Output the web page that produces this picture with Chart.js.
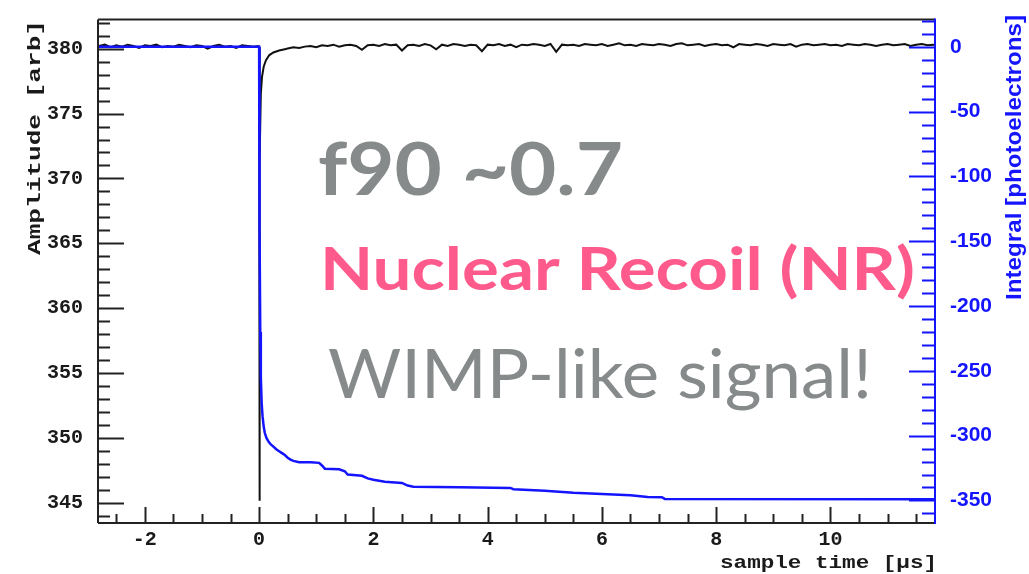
<!DOCTYPE html>
<html>
<head>
<meta charset="utf-8">
<script src="https://cdn.jsdelivr.net/npm/chart.js@4.4.0/dist/chart.umd.min.js"></script>
<style>
  html, body { margin: 0; padding: 0; background: #fff; }
  canvas { display: block; }
</style>
</head>
<body>
<canvas id="pulse" width="1029" height="574"></canvas>
<script>
// amplitude trace (black, left axis)
const ampTime = [
  -2.82, -2.8, -2.7, -2.6, -2.5, -2.4, -2.3, -2.2, -2.1, -2.0,
  -1.9, -1.8, -1.7, -1.6, -1.5, -1.4, -1.3, -1.2, -1.1, -1.0,
  -0.9, -0.8, -0.7, -0.6, -0.5, -0.4, -0.3, -0.2, -0.1,
  -0.01, 0, 0.003, 0.015, 0.03, 0.05, 0.08, 0.12, 0.18, 0.25, 0.35, 0.45,
  0.5, 0.6, 0.7, 0.8, 0.9, 1.0, 1.1, 1.2, 1.3, 1.4,
  1.5, 1.6, 1.7, 1.8, 1.9, 2.0, 2.1, 2.2, 2.3, 2.4,
  2.5, 2.6, 2.7, 2.8, 2.9, 3.0, 3.1, 3.2, 3.3, 3.4,
  3.5, 3.6, 3.7, 3.8, 3.9, 4.0, 4.1, 4.2, 4.3, 4.4,
  4.5, 4.6, 4.7, 4.8, 4.9, 5.0, 5.1, 5.2, 5.3, 5.4,
  5.5, 5.6, 5.7, 5.8, 5.9, 6.0, 6.1, 6.2, 6.3, 6.4,
  6.5, 6.6, 6.7, 6.8, 6.9, 7.0, 7.1, 7.2, 7.3, 7.4,
  7.5, 7.6, 7.7, 7.8, 7.9, 8.0, 8.1, 8.2, 8.3, 8.4,
  8.5, 8.6, 8.7, 8.8, 8.9, 9.0, 9.1, 9.2, 9.3, 9.4,
  9.5, 9.6, 9.7, 9.8, 9.9, 10.0, 10.1, 10.2, 10.3, 10.4,
  10.5, 10.6, 10.7, 10.8, 10.9, 11.0, 11.1, 11.2, 11.3, 11.4,
  11.5, 11.6, 11.7, 11.8, 11.83
];
const ampValue = [
  380.2, 380.2, 380.3, 380.1, 380.25, 380.15, 380.3, 380.2, 380.05, 380.25,
  380.2, 380.3, 380.1, 380.2, 380.15, 380.3, 380.2, 380.1, 380.25, 380.2,
  380.0, 380.2, 380.3, 380.15, 380.2, 380.05, 380.25, 380.2, 380.15,
  380.2, 380.1, 345.2, 371.5, 376.5, 377.8, 378.6, 379.1, 379.5, 379.7, 379.85, 379.95,
  380.0, 380.1, 380.05, 380.15, 380.2, 380.1, 380.25, 380.2, 380.3, 380.15,
  380.25, 380.3, 380.2, 379.9, 380.25, 380.3, 380.2, 380.35, 380.25, 380.3,
  379.85, 380.25, 380.3, 380.2, 380.35, 380.25, 379.95, 380.3, 380.2, 380.35,
  380.3, 380.2, 380.3, 380.25, 379.8, 380.3, 380.25, 380.35, 380.2, 380.3,
  380.1, 380.3, 380.25, 380.35, 380.3, 380.2, 380.35, 379.75, 380.3, 380.25,
  380.3, 380.2, 380.35, 380.3, 380.25, 380.35, 380.2, 380.3, 380.4, 380.25,
  380.3, 380.2, 380.35, 380.3, 380.25, 380.35, 380.3, 380.2, 380.35, 380.4,
  380.25, 380.3, 380.35, 380.2, 380.3, 380.35, 380.25, 380.3, 380.1, 380.35,
  380.3, 380.25, 380.35, 380.3, 380.2, 380.35, 380.3, 380.25, 380.35, 380.15,
  380.3, 380.35, 380.25, 380.3, 380.35, 380.25, 380.3, 380.2, 380.35, 380.3,
  380.25, 380.35, 380.3, 380.2, 380.3, 380.35, 380.25, 380.3, 380.35, 380.2,
  380.3, 380.35, 380.25, 380.3, 380.25
];

// integral trace (blue, right axis)
const intTime = [
  -2.82, 0, 0.005, 0.01, 0.02, 0.03, 0.045, 0.06, 0.08, 0.1,
  0.13, 0.17, 0.2, 0.25, 0.3, 0.35, 0.4, 0.45, 0.5, 0.55,
  0.6, 0.7, 0.9, 1.05, 1.1, 1.15, 1.4, 1.5, 1.55, 1.8,
  1.9, 2.0, 2.2, 2.5, 2.6, 2.7, 3.5, 4.4, 4.45, 5.0,
  5.5, 6.0, 6.5, 6.8, 7.05, 7.1, 11.83
];
const intValue = [
  0, 0, -60, -140, -220, -255, -275, -285, -293, -298,
  -302, -305, -306.5, -308.5, -310.5, -312, -313.5, -315, -317, -318.5,
  -319.5, -320.5, -320.6, -321, -323, -325.5, -326, -327.5, -330, -331,
  -333, -334, -335.5, -336.5, -338.5, -339.5, -339.8, -340.3, -341.3, -342.5,
  -344, -345, -346, -347.4, -347.5, -348.8, -349
];

const xTicks = [-2, 0, 2, 4, 6, 8, 10];
const ampTicks = [345, 350, 355, 360, 365, 370, 375, 380];
const intTicks = [0, -50, -100, -150, -200, -250, -300, -350];

const BLUE = '#1414ff';
const INK = '#1a1a1a';

function fitText(ctx, text, family, weight, color, x, y, width, capH, angle) {
  ctx.save();
  ctx.font = weight + ' 100px ' + family;
  const capRatio = ctx.measureText('H').actualBoundingBoxAscent / 100;
  const size = capH / capRatio;
  ctx.font = weight + ' ' + size + 'px ' + family;
  const w = ctx.measureText(text).width;
  ctx.translate(x, y);
  if (angle) ctx.rotate(angle);
  ctx.scale(width / w, 1);
  ctx.fillStyle = color;
  ctx.textAlign = 'left';
  ctx.textBaseline = 'alphabetic';
  ctx.fillText(text, 0, 0);
  ctx.restore();
}

const rootFrame = {
  id: 'rootFrame',
  afterDatasetsDraw(chart) {
    const { ctx, chartArea: a, scales } = chart;
    ctx.save();
    ctx.lineWidth = 2;
    ctx.strokeStyle = '#222';
    ctx.beginPath();
    ctx.moveTo(a.left, a.top); ctx.lineTo(a.right, a.top);
    ctx.moveTo(a.left, a.top); ctx.lineTo(a.left, a.bottom);
    ctx.moveTo(a.left, a.bottom); ctx.lineTo(a.right, a.bottom);
    ctx.stroke();
    // left ticks
    ctx.beginPath();
    for (let v = 344; v <= 382; v++) {
      const y = Math.round(scales.yAmp.getPixelForValue(v)) + 0.5;
      const len = v % 5 === 0 ? 26 : 12;
      ctx.moveTo(a.left, y); ctx.lineTo(a.left + len, y);
    }
    // bottom ticks
    for (let t = -2.5; t <= 11.5; t += 0.5) {
      const x = Math.round(scales.x.getPixelForValue(t)) + 0.5;
      const len = Math.abs(t % 2) < 1e-9 ? 16 : 9;
      ctx.moveTo(x, a.bottom); ctx.lineTo(x, a.bottom - len);
    }
    ctx.stroke();
    // right axis in blue
    ctx.strokeStyle = BLUE;
    ctx.beginPath();
    ctx.moveTo(a.right, a.top - 1); ctx.lineTo(a.right, a.bottom + 1);
    for (let v = 20; v >= -360; v -= 10) {
      const y = Math.round(scales.yInt.getPixelForValue(v)) + 0.5;
      const len = v % 50 === 0 ? 26 : 13;
      ctx.moveTo(a.right, y); ctx.lineTo(a.right - len, y);
    }
    ctx.stroke();
    ctx.restore();
  },
  afterDraw(chart) {
    const ctx = chart.ctx;
    // axis titles
    fitText(ctx, 'Amplitude [arb]', '"Liberation Mono"', 'bold', INK, 40, 255, 235, 12, -Math.PI / 2);
    fitText(ctx, 'Integral [photoelectrons]', '"Liberation Sans"', 'bold', BLUE, 1021, 300, 285, 15, -Math.PI / 2);
    fitText(ctx, 'sample time [\u03bcs]', '"Liberation Mono"', 'bold', INK, 720, 568, 217, 12, 0);
    // annotations
    fitText(ctx, 'f90 ~0.7', 'Lato', 'bold', '#868a8a', 318, 195, 305, 53, 0);
    fitText(ctx, 'Nuclear Recoil (NR)', 'Lato', 'bold', '#ff5a8c', 320, 290, 595, 43, 0);
    fitText(ctx, 'WIMP-like signal!', 'Lato', 'normal', '#868a8a', 328, 398, 544, 50, 0);
  }
};

const tickFont = { family: '"Liberation Mono"', weight: 'bold', size: 20 };

new Chart(document.getElementById('pulse').getContext('2d'), {
  type: 'line',
  data: {
    datasets: [
      {
        label: 'Integral',
        data: intTime.map((t, i) => ({ x: t, y: intValue[i] })),
        yAxisID: 'yInt',
        borderColor: BLUE,
        borderWidth: 2.5,
        pointRadius: 0,
        tension: 0,
        order: 0
      },
      {
        label: 'Amplitude',
        data: ampTime.map((t, i) => ({ x: t, y: ampValue[i] })),
        yAxisID: 'yAmp',
        borderColor: '#111',
        borderWidth: 2,
        pointRadius: 0,
        tension: 0,
        order: 1
      }
    ]
  },
  options: {
    responsive: false,
    animation: false,
    layout: { padding: { top: 17, left: 0, right: 0, bottom: 0 } },
    plugins: { legend: { display: false }, tooltip: { enabled: false } },
    scales: {
      x: {
        type: 'linear', position: 'bottom', min: -2.82, max: 11.83,
        grid: { display: false }, border: { display: false },
        afterBuildTicks: s => { s.ticks = xTicks.map(v => ({ value: v })); },
        afterFit: s => { s.height = 51; },
        ticks: { font: tickFont, color: INK, padding: -3, maxRotation: 0 }
      },
      yAmp: {
        type: 'linear', position: 'left', min: 343.48, max: 382.23,
        grid: { display: false }, border: { display: false },
        afterBuildTicks: s => { s.ticks = ampTicks.map(v => ({ value: v })); },
        afterFit: s => { s.width = 98; },
        ticks: { font: tickFont, color: INK, padding: 7 }
      },
      yInt: {
        type: 'linear', position: 'right', min: -367.4, max: 21,
        grid: { display: false }, border: { display: false },
        afterBuildTicks: s => { s.ticks = intTicks.map(v => ({ value: v })); },
        afterFit: s => { s.width = 94; },
        ticks: { font: { family: '"Liberation Sans"', weight: 'bold', size: 21 }, color: BLUE, padding: 7 }
      }
    }
  },
  plugins: [rootFrame]
});
</script>
</body>
</html>
